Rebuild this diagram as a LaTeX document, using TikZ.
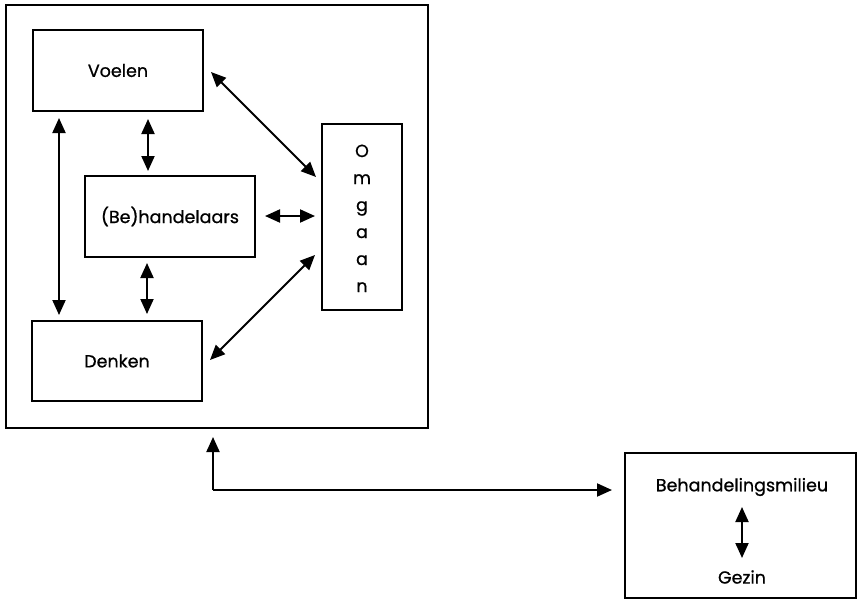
\documentclass[tikz,border=0pt]{standalone}
\usepackage{fontspec}
\setmainfont{Poppins}[UprightFeatures={FakeBold=0.8}]
\usetikzlibrary{arrows.meta}
\begin{document}
\begin{tikzpicture}[x=1pt,y=-1pt,
  box/.style={draw,line width=2pt,inner sep=0pt},
  lbl/.style={font=\fontsize{17.5}{20}\selectfont},
  link/.style={line width=2pt,{Triangle[length=15pt,width=13pt]}-{Triangle[length=15pt,width=13pt]}},
  onelink/.style={line width=2pt,-{Triangle[length=15pt,width=13pt]}}]
\useasboundingbox (0,0) rectangle (862,613);
% outer frame and inner blocks
\node[box,minimum width=422pt,minimum height=423pt] (frame) at (217,216.5) {};
\node[box,lbl,minimum width=170pt,minimum height=81pt] (voelen) at (118,70.5) {Voelen};
\node[box,lbl,minimum width=170pt,minimum height=81pt] (behand) at (170,216.5) {(Be)handelaars};
\node[box,lbl,minimum width=170pt,minimum height=80pt] (denken) at (117,361) {Denken};
\node[box,minimum width=80pt,minimum height=186pt] (omgaan) at (362,217) {};
\foreach \ch [count=\i] in {O,m,g,a,a,n}
  \node[lbl,inner sep=0pt,anchor=base] (om\i) at (362,157+27*\i-27) {\ch};
% milieu block
\node[box,minimum width=231pt,minimum height=145pt] (milieu) at (740.5,525.5) {};
\node[lbl,inner sep=0pt] (beh) at (742,487) {Behandelingsmilieu};
\node[lbl,inner sep=0pt] (gezin) at (742,577) {Gezin};
% connectors
\coordinate (v1) at (59,118); \coordinate (d1) at (59,315);
\draw[link] (v1) -- (d1);
\coordinate (v2) at (148,119); \coordinate (b2) at (148,171);
\draw[link] (v2) -- (b2);
\coordinate (b3) at (147,263); \coordinate (d3) at (147,314);
\draw[link] (b3) -- (d3);
\coordinate (b4) at (265,216); \coordinate (o4) at (315,216);
\draw[link] (b4) -- (o4);
\coordinate (v5) at (211,72); \coordinate (o5) at (316,177);
\draw[link] (v5) -- (o5);
\coordinate (d6) at (210,360); \coordinate (o6) at (315,255);
\draw[link] (d6) -- (o6);
\coordinate (m1) at (742,507); \coordinate (g1) at (742,558);
\draw[link] (m1) -- (g1);
\coordinate (f1) at (213,437); \coordinate (c1) at (213,490); \coordinate (m2) at (612,490);
\draw[onelink] (c1) -- (f1);
\draw[onelink] (c1) -- (m2);
\end{tikzpicture}
\end{document}
